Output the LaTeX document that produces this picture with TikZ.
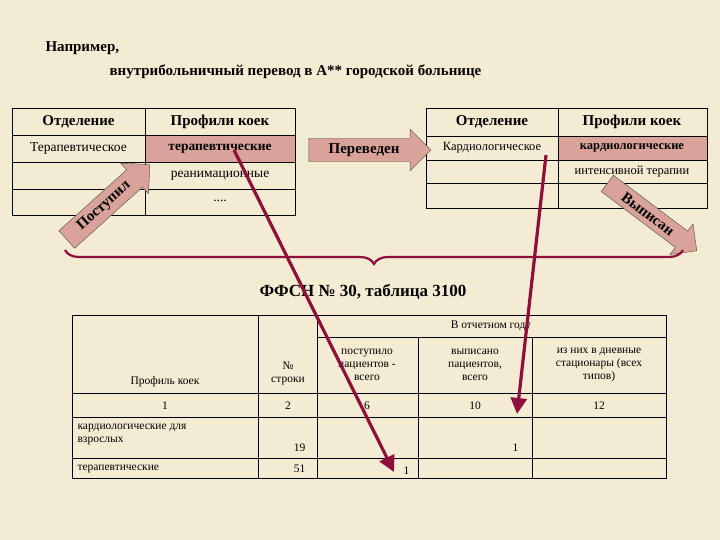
\documentclass[tikz,border=0pt]{standalone}
\usepackage{fontspec}
\setmainfont{Liberation Serif}
\usetikzlibrary{shapes.arrows,decorations.pathreplacing,arrows.meta}
\definecolor{bg}{HTML}{F4EBD3}
\definecolor{pinkc}{HTML}{D9A39A}
\definecolor{arrowc}{HTML}{8E0E3C}
\tikzset{
 blockarrow/.style={single arrow,draw=black!70,fill=pinkc,font=\fontsize{15}{17}\selectfont\bfseries,single arrow head extend=9pt,inner sep=5pt,minimum height=#1},
 bigarrow/.style={draw=arrowc,line width=3.2pt,-{Triangle[length=16pt,width=16pt]}},
 hd/.style={font=\fontsize{15}{18}\selectfont\bfseries},
 tx/.style={font=\fontsize{13.5}{16}\selectfont},
 tb/.style={font=\fontsize{11.5}{13}\selectfont}
}
\begin{document}
\begin{tikzpicture}[x=1pt,y=-1pt]
\fill[bg] (0,0) rectangle (720,540);
\useasboundingbox (0,0) rectangle (720,540);
\node[anchor=west,hd] (t1) at (42,48) {Например,};
\node[anchor=west,hd] (t2) at (106,72) {внутрибольничный перевод в А** городской больнице};
% left table
\fill[pinkc] (145,135) rectangle (295,162);
\draw[line width=0.6pt] (12,108) rectangle (295,215);
\foreach \y in {135,162,189} \draw[line width=0.6pt] (12,\y) -- (295,\y);
\draw[line width=0.6pt] (145,108) -- (145,215);
\node[hd] (l1) at (78.5,122) {Отделение};
\node[hd] (l2) at (220,122) {Профили коек};
\node[tx] (l3) at (78.5,149) {Терапевтическое};
\node[tx,font=\fontsize{13.5}{16}\selectfont\bfseries] (l4) at (220,149) {терапевтические};
\node[tx] (l5) at (220,176) {реанимационные};
\node[tx] (l6) at (220,201) {....};
% right table
\fill[pinkc] (558,136) rectangle (707,160);
\draw[line width=0.6pt] (426,108) rectangle (707,208);
\foreach \y in {136,160,183} \draw[line width=0.6pt] (426,\y) -- (707,\y);
\draw[line width=0.6pt] (558,108) -- (558,208);
\node[hd] (r1) at (492,122) {Отделение};
\node[hd] (r2) at (632,122) {Профили коек};
\node[font=\fontsize{12.5}{14}\selectfont] (r3) at (492,148) {Кардиологическое};
\node[font=\fontsize{12.5}{14}\selectfont\bfseries] (r4) at (632,148) {кардиологические};
\node[font=\fontsize{12.5}{14}\selectfont] (r5) at (632,172) {интенсивной терапии};
% block arrows
\node[blockarrow=122pt] (a1) at (364,150) {Переведен\hspace{26pt}};
\node[blockarrow=112pt,rotate=42] (a2) at (104,206) {Поступил\hspace{18pt}};
\node[blockarrow=112pt,rotate=-37] (a3) at (648,214) {Выписан\hspace{18pt}};
% brace
\draw[arrowc,line width=2.2pt,decorate,decoration={brace,mirror,amplitude=14pt}] (65,250) -- (683,250) coordinate[midway] (bm);
\node[font=\fontsize{17}{20}\selectfont\bfseries] (ff) at (363,292) {ФФСН № 30, таблица 3100};
% bottom table
\draw[line width=0.6pt] (72,315) rectangle (666,478);
\draw (317,337) -- (666,337);
\foreach \y in {393,417,458} \draw (72,\y) -- (666,\y);
\draw (258,315) -- (258,478);
\draw (317,315) -- (317,478);
\draw (418,337) -- (418,478);
\draw (532,337) -- (532,478);
\node[tb] (h1) at (491,326) {В отчетном году};
\node[tb,align=center] (h2) at (165,382) {Профиль коек};
\node[tb,align=center] (h3) at (288,373) {№\\строки};
\node[tb,align=center] (h4) at (367,365) {поступило\\пациентов -\\всего};
\node[tb,align=center] (h5) at (475,365) {выписано\\пациентов,\\всего};
\node[tb,align=center] (h6) at (599,365) {из них в дневные\\стационары (всех\\типов)};
\node[tb] (n1) at (165,406) {1};
\node[tb] (n2) at (288,406) {2};
\node[tb] (n3) at (367,406) {6};
\node[tb] (n4) at (475,406) {10};
\node[tb] (n5) at (599,406) {12};
\node[tb,anchor=north west,align=left] (k1) at (74,421) {кардиологические для\\взрослых};
\node[tb,anchor=east] (k2) at (309,448) {19};
\node[tb,anchor=east] (k3) at (522,448) {1};
\node[tb,anchor=west] (p1) at (74,469) {терапевтические};
\node[tb,anchor=east] (p2) at (309,469) {51};
\node[tb,anchor=west] (p3) at (400,471) {1};
% red arrows
\coordinate (s1) at (234,150);
\coordinate (e1) at (394,472);
\coordinate (s2) at (546,155);
\coordinate (e2) at (517,414);
\draw[bigarrow] (s1) -- (e1);
\draw[bigarrow] (s2) -- (e2);
\end{tikzpicture}
\end{document}
